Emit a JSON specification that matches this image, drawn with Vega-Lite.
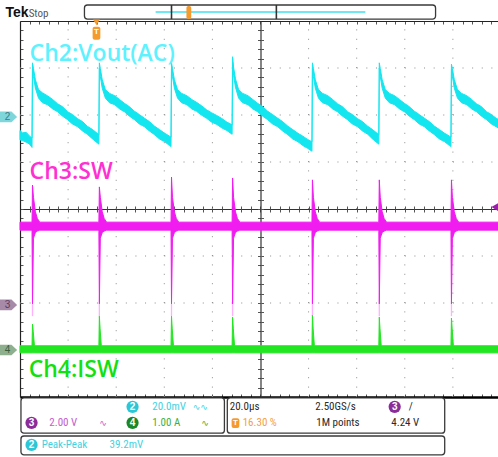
{
"$schema":"https://vega.github.io/schema/vega-lite/v6.json",
"width":478,"height":376,
"autosize":{"type":"none"},
"padding":{"left":20,"top":21,"right":0,"bottom":60},
"background":"#ffffff",
"config":{"view":{"stroke":null}},
"resolve":{"axis":{"x":"independent","y":"independent"}},
"datasets":{
"grid_v":[{"t":-4,"v":-4,"v2":4},{"t":-3,"v":-4,"v2":4},{"t":-2,"v":-4,"v2":4},{"t":-1,"v":-4,"v2":4},{"t":1,"v":-4,"v2":4},{"t":2,"v":-4,"v2":4},{"t":3,"v":-4,"v2":4},{"t":4,"v":-4,"v2":4}],
"grid_h":[{"t":-5,"t2":5,"v":-3},{"t":-5,"t2":5,"v":-2},{"t":-5,"t2":5,"v":-1},{"t":-5,"t2":5,"v":1},{"t":-5,"t2":5,"v":2},{"t":-5,"t2":5,"v":3}],
"ch2":[
{"t":-5.0,"v":1.67,"v2":1.47},{"t":-4.95,"v":1.62,"v2":1.46},{"t":-4.87,"v":1.63,"v2":1.42},{"t":-4.8,"v":1.55,"v2":1.38},{"t":-4.75,"v":1.51,"v2":1.31},
{"t":-4.74,"v":3.11,"v2":3.0},{"t":-4.72,"v":2.99,"v2":2.82},{"t":-4.68,"v":2.75,"v2":2.57},{"t":-4.615,"v":2.54,"v2":2.36},{"t":-4.53,"v":2.47,"v2":2.26},{"t":-4.43,"v":2.41,"v2":2.22},{"t":-4.32,"v":2.33,"v2":2.13},{"t":-4.22,"v":2.24,"v2":2.07},{"t":-4.12,"v":2.18,"v2":1.98},{"t":-4.01,"v":2.07,"v2":1.9},{"t":-3.91,"v":2.01,"v2":1.81},{"t":-3.8,"v":1.92,"v2":1.75},{"t":-3.7,"v":1.86,"v2":1.66},{"t":-3.6,"v":1.76,"v2":1.59},{"t":-3.49,"v":1.69,"v2":1.49},{"t":-3.36,"v":1.58,"v2":1.38},
{"t":-3.35,"v":3.11,"v2":3.0},{"t":-3.33,"v":2.99,"v2":2.82},{"t":-3.29,"v":2.75,"v2":2.57},{"t":-3.225,"v":2.54,"v2":2.36},{"t":-3.14,"v":2.46,"v2":2.26},{"t":-3.03,"v":2.41,"v2":2.22},{"t":-2.93,"v":2.33,"v2":2.13},{"t":-2.83,"v":2.25,"v2":2.07},{"t":-2.73,"v":2.18,"v2":1.98},{"t":-2.62,"v":2.08,"v2":1.9},{"t":-2.52,"v":2.01,"v2":1.81},{"t":-2.41,"v":1.93,"v2":1.75},{"t":-2.31,"v":1.86,"v2":1.66},{"t":-2.2,"v":1.76,"v2":1.58},{"t":-2.1,"v":1.69,"v2":1.49},{"t":-1.99,"v":1.61,"v2":1.43},{"t":-1.89,"v":1.55,"v2":1.35},{"t":-1.86,"v":1.53,"v2":1.33},
{"t":-1.85,"v":3.11,"v2":3.0},{"t":-1.83,"v":2.99,"v2":2.82},{"t":-1.79,"v":2.75,"v2":2.57},{"t":-1.725,"v":2.54,"v2":2.36},{"t":-1.64,"v":2.46,"v2":2.26},{"t":-1.53,"v":2.41,"v2":2.22},{"t":-1.43,"v":2.33,"v2":2.13},{"t":-1.33,"v":2.27,"v2":2.08},{"t":-1.23,"v":2.2,"v2":2.0},{"t":-1.12,"v":2.11,"v2":1.93},{"t":-1.02,"v":2.05,"v2":1.85},{"t":-0.91,"v":1.99,"v2":1.8},{"t":-0.81,"v":1.93,"v2":1.73},{"t":-0.7,"v":1.85,"v2":1.67},{"t":-0.59,"v":1.79,"v2":1.59},
{"t":-0.58,"v":3.24,"v2":3.12},{"t":-0.56,"v":3.02,"v2":2.84},{"t":-0.52,"v":2.77,"v2":2.59},{"t":-0.455,"v":2.54,"v2":2.36},{"t":-0.37,"v":2.46,"v2":2.26},{"t":-0.26,"v":2.41,"v2":2.22},{"t":-0.16,"v":2.33,"v2":2.13},{"t":-0.06,"v":2.25,"v2":2.07},{"t":0.04,"v":2.18,"v2":1.98},{"t":0.15,"v":2.08,"v2":1.9},{"t":0.25,"v":2.01,"v2":1.81},{"t":0.36,"v":1.93,"v2":1.75},{"t":0.46,"v":1.86,"v2":1.66},{"t":0.57,"v":1.76,"v2":1.58},{"t":0.67,"v":1.69,"v2":1.49},{"t":0.78,"v":1.61,"v2":1.43},{"t":0.88,"v":1.55,"v2":1.35},{"t":0.98,"v":1.48,"v2":1.29},{"t":1.07,"v":1.43,"v2":1.23},
{"t":1.08,"v":3.11,"v2":3.0},{"t":1.1,"v":2.99,"v2":2.82},{"t":1.14,"v":2.75,"v2":2.57},{"t":1.205,"v":2.54,"v2":2.36},{"t":1.29,"v":2.46,"v2":2.26},{"t":1.4,"v":2.41,"v2":2.22},{"t":1.5,"v":2.33,"v2":2.13},{"t":1.6,"v":2.24,"v2":2.07},{"t":1.7,"v":2.18,"v2":1.98},{"t":1.81,"v":2.07,"v2":1.9},{"t":1.91,"v":2.01,"v2":1.81},{"t":2.02,"v":1.92,"v2":1.75},{"t":2.12,"v":1.86,"v2":1.66},{"t":2.23,"v":1.76,"v2":1.59},{"t":2.33,"v":1.69,"v2":1.49},{"t":2.46,"v":1.58,"v2":1.38},
{"t":2.47,"v":3.11,"v2":3.0},{"t":2.49,"v":2.99,"v2":2.82},{"t":2.53,"v":2.75,"v2":2.57},{"t":2.595,"v":2.54,"v2":2.36},{"t":2.68,"v":2.46,"v2":2.26},{"t":2.79,"v":2.41,"v2":2.22},{"t":2.89,"v":2.33,"v2":2.13},{"t":2.99,"v":2.25,"v2":2.07},{"t":3.09,"v":2.18,"v2":1.98},{"t":3.2,"v":2.08,"v2":1.9},{"t":3.3,"v":2.01,"v2":1.81},{"t":3.41,"v":1.93,"v2":1.75},{"t":3.51,"v":1.86,"v2":1.66},{"t":3.62,"v":1.76,"v2":1.58},{"t":3.72,"v":1.69,"v2":1.49},{"t":3.83,"v":1.61,"v2":1.43},{"t":3.93,"v":1.55,"v2":1.35},{"t":3.96,"v":1.53,"v2":1.33},
{"t":3.97,"v":3.08,"v2":2.97},{"t":3.99,"v":2.99,"v2":2.82},{"t":4.03,"v":2.75,"v2":2.57},{"t":4.095,"v":2.54,"v2":2.36},{"t":4.18,"v":2.46,"v2":2.26},{"t":4.29,"v":2.41,"v2":2.22},{"t":4.39,"v":2.33,"v2":2.13},{"t":4.49,"v":2.24,"v2":2.07},{"t":4.59,"v":2.18,"v2":1.98},{"t":4.7,"v":2.07,"v2":1.9},{"t":4.8,"v":2.01,"v2":1.81},{"t":4.9,"v":1.93,"v2":1.75},{"t":5.0,"v":1.88,"v2":1.69}
],
"ch3":[
{"t":-5.0,"v":-0.28,"v2":-0.45},
{"t":-4.75,"v":-0.28,"v2":-0.45},{"t":-4.74,"v":0.51,"v2":-2.02},{"t":-4.72,"v":0.25,"v2":-0.62},{"t":-4.68,"v":-0.06,"v2":-0.5},{"t":-4.64,"v":-0.2,"v2":-0.47},{"t":-4.59,"v":-0.28,"v2":-0.45},
{"t":-3.36,"v":-0.28,"v2":-0.45},{"t":-3.35,"v":0.47,"v2":-2.02},{"t":-3.33,"v":0.25,"v2":-0.62},{"t":-3.29,"v":-0.06,"v2":-0.5},{"t":-3.25,"v":-0.2,"v2":-0.47},{"t":-3.2,"v":-0.28,"v2":-0.45},
{"t":-1.86,"v":-0.28,"v2":-0.45},{"t":-1.85,"v":0.68,"v2":-2.02},{"t":-1.83,"v":0.25,"v2":-0.62},{"t":-1.79,"v":-0.06,"v2":-0.5},{"t":-1.75,"v":-0.2,"v2":-0.47},{"t":-1.7,"v":-0.28,"v2":-0.45},
{"t":-0.59,"v":-0.28,"v2":-0.45},{"t":-0.58,"v":0.66,"v2":-2.02},{"t":-0.56,"v":0.25,"v2":-0.62},{"t":-0.52,"v":-0.06,"v2":-0.5},{"t":-0.48,"v":-0.2,"v2":-0.47},{"t":-0.43,"v":-0.28,"v2":-0.45},
{"t":1.07,"v":-0.28,"v2":-0.45},{"t":1.08,"v":0.62,"v2":-2.02},{"t":1.1,"v":0.25,"v2":-0.62},{"t":1.14,"v":-0.06,"v2":-0.5},{"t":1.18,"v":-0.2,"v2":-0.47},{"t":1.23,"v":-0.28,"v2":-0.45},
{"t":2.46,"v":-0.28,"v2":-0.45},{"t":2.47,"v":0.62,"v2":-2.02},{"t":2.49,"v":0.25,"v2":-0.62},{"t":2.53,"v":-0.06,"v2":-0.5},{"t":2.57,"v":-0.2,"v2":-0.47},{"t":2.62,"v":-0.28,"v2":-0.45},
{"t":3.96,"v":-0.28,"v2":-0.45},{"t":3.97,"v":0.62,"v2":-2.02},{"t":3.99,"v":0.25,"v2":-0.62},{"t":4.03,"v":-0.06,"v2":-0.5},{"t":4.07,"v":-0.2,"v2":-0.47},{"t":4.12,"v":-0.28,"v2":-0.45},
{"t":5.0,"v":-0.28,"v2":-0.45}
],
"ch3f":[{"t":-4.74,"v":-2.02,"v2":-2.28},{"t":-3.35,"v":-2.02,"v2":-2.28},{"t":-1.85,"v":-2.02,"v2":-2.28},{"t":-0.58,"v":-2.02,"v2":-2.28},{"t":1.08,"v":-2.02,"v2":-2.28},{"t":2.47,"v":-2.02,"v2":-2.28},{"t":3.97,"v":-2.02,"v2":-2.28}],
"ch4":[
{"t":-5.0,"v":-2.91,"v2":-3.06},
{"t":-4.75,"v":-2.91,"v2":-3.06},{"t":-4.74,"v":-2.45,"v2":-3.06},{"t":-4.725,"v":-2.6,"v2":-3.06},{"t":-4.7,"v":-2.91,"v2":-3.06},
{"t":-3.36,"v":-2.91,"v2":-3.06},{"t":-3.35,"v":-2.28,"v2":-3.06},{"t":-3.335,"v":-2.55,"v2":-3.06},{"t":-3.31,"v":-2.91,"v2":-3.06},
{"t":-1.86,"v":-2.91,"v2":-3.06},{"t":-1.85,"v":-2.28,"v2":-3.06},{"t":-1.835,"v":-2.55,"v2":-3.06},{"t":-1.81,"v":-2.91,"v2":-3.06},
{"t":-0.59,"v":-2.91,"v2":-3.06},{"t":-0.58,"v":-2.3,"v2":-3.06},{"t":-0.565,"v":-2.55,"v2":-3.06},{"t":-0.54,"v":-2.91,"v2":-3.06},
{"t":1.07,"v":-2.91,"v2":-3.06},{"t":1.08,"v":-2.26,"v2":-3.06},{"t":1.095,"v":-2.55,"v2":-3.06},{"t":1.12,"v":-2.91,"v2":-3.06},
{"t":2.46,"v":-2.91,"v2":-3.06},{"t":2.47,"v":-2.3,"v2":-3.06},{"t":2.485,"v":-2.55,"v2":-3.06},{"t":2.51,"v":-2.91,"v2":-3.06},
{"t":3.96,"v":-2.91,"v2":-3.06},{"t":3.97,"v":-2.32,"v2":-3.06},{"t":3.985,"v":-2.55,"v2":-3.06},{"t":4.01,"v":-2.91,"v2":-3.06},
{"t":5.0,"v":-2.91,"v2":-3.06}
],
"labels":[{"t":-4.8,"v":3.3,"s":"Ch2:Vout(AC)","k":"ch2lab"},{"t":-4.8,"v":0.79,"s":"Ch3:SW","k":"ch3lab"},{"t":-4.82,"v":-3.43,"s":"Ch4:ISW","k":"ch4lab"}],
"boxes":[{"t":-4.98,"t2":-0.75,"v":-4.02,"v2":-4.77},{"t":-0.69,"t2":3.83,"v":-4.02,"v2":-4.77},{"t":-4.98,"t2":3.83,"v":-4.83,"v2":-5.23},{"t":-3.66,"t2":3.64,"v":4.34,"v2":4.04}],
"hl":[{"t":-2.18,"t2":2.18,"v":4.19,"v2":4.19,"k":"hcyan"},{"t":-1.85,"t2":-1.85,"v":4.34,"v2":4.04,"k":"hdiv"},{"t":0.33,"t2":0.33,"v":4.34,"v2":4.04,"k":"hdiv"}],
"orect":[{"t":-3.49,"t2":-3.33,"v":3.88,"v2":3.6},{"t":-0.6,"t2":-0.44,"v":-4.45,"v2":-4.66},{"t":-1.54,"t2":-1.44,"v":4.32,"v2":4.04}],
"otri":[{"t":-3.41,"v":3.97}],
"ttext":[{"t":-3.41,"v":3.76,"s":"T"},{"t":-0.52,"v":-4.555,"s":"T"}],
"trig":[{"t":4.87,"v":0.04}],
"tags":[{"t":-5.24,"v":1.96,"s":"2","k":"tag2","k2":"tag2t"},{"t":-5.24,"v":-2.04,"s":"3","k":"tag3","k2":"tag3t"},{"t":-5.24,"v":-3.0,"s":"4","k":"tag4","k2":"tag4t"}],
"badges":[{"t":-2.66,"v":-4.21,"s":"2","k":"b2"},{"t":-4.76,"v":-4.55,"s":"3","k":"b3"},{"t":-2.66,"v":-4.55,"s":"4","k":"b4"},{"t":2.79,"v":-4.21,"s":"3","k":"b3"},{"t":-4.76,"v":-5.02,"s":"2","k":"b2"}],
"foot":[
{"t":-2.25,"v":-4.21,"s":"20.0mV","k":"c2"},{"t":-4.39,"v":-4.55,"s":"2.00 V","k":"c3"},{"t":-2.25,"v":-4.55,"s":"1.00 A","k":"c4"},
{"t":-0.64,"v":-4.21,"s":"20.0µs","k":"sys"},{"t":1.14,"v":-4.21,"s":"2.50GS/s","k":"sys"},{"t":-0.37,"v":-4.55,"s":"16.30 %","k":"orange"},
{"t":1.16,"v":-4.55,"s":"1M points","k":"sys"},{"t":2.72,"v":-4.55,"s":"4.24 V","k":"sys"},{"t":3.08,"v":-4.21,"s":"/","k":"sys"},
{"t":-4.55,"v":-5.02,"s":"Peak-Peak","k":"c2"},{"t":-3.14,"v":-5.02,"s":"39.2mV","k":"c2"},{"t":-4.82,"v":4.15,"s":"Stop","k":"gray"}
],
"icons":[{"t":-1.41,"v":-4.21,"s":"∿∿","k":"c2"},{"t":-3.35,"v":-4.55,"s":"∿","k":"c3"},{"t":-1.23,"v":-4.55,"s":"∿","k":"c4"}],
"tek":[{"t":-5.3,"v":4.16,"s":"Tek"}]
},
"layer":[
{"data":{"name":"grid_v"},"mark":{"type":"rule","stroke":"#8c8c8c","strokeWidth":1,"strokeDash":[1,8.4]},
 "encoding":{
  "x":{"field":"t","type":"quantitative","scale":{"domain":[-5,4.938],"nice":false,"zero":false},"axis":{"orient":"bottom","offset":-376,"values":[-5,-4.8,-4.6,-4.4,-4.2,-4,-3.8,-3.6,-3.4,-3.2,-3,-2.8,-2.6,-2.4,-2.2,-2,-1.8,-1.6,-1.4,-1.2,-1,-0.8,-0.6,-0.4,-0.2,0,0.2,0.4,0.6,0.8,1,1.2,1.4,1.6,1.8,2,2.2,2.4,2.6,2.8,3,3.2,3.4,3.6,3.8,4,4.2,4.4,4.6,4.8],"labels":false,"title":null,"grid":false,"tickSize":3,"tickColor":"#555555","domainColor":"#222222","domainWidth":1.2}},
  "y":{"field":"v","type":"quantitative","scale":{"domain":[-4,4],"nice":false,"zero":false},"axis":{"orient":"right","offset":-478,"values":[-3.8,-3.6,-3.4,-3.2,-3,-2.8,-2.6,-2.4,-2.2,-2,-1.8,-1.6,-1.4,-1.2,-1,-0.8,-0.6,-0.4,-0.2,0,0.2,0.4,0.6,0.8,1,1.2,1.4,1.6,1.8,2,2.2,2.4,2.6,2.8,3,3.2,3.4,3.6,3.8],"labels":false,"title":null,"grid":false,"tickSize":3,"tickColor":"#555555","domainColor":"#222222","domainWidth":1.2}},
  "y2":{"field":"v2"}}},
{"data":{"name":"grid_h"},"mark":{"type":"rule","stroke":"#8c8c8c","strokeWidth":1,"strokeDash":[1,8.62]},
 "encoding":{
  "x":{"field":"t","type":"quantitative","scale":{"domain":[-5,4.938],"nice":false,"zero":false},"axis":{"orient":"top","offset":-376,"values":[-5,-4.8,-4.6,-4.4,-4.2,-4,-3.8,-3.6,-3.4,-3.2,-3,-2.8,-2.6,-2.4,-2.2,-2,-1.8,-1.6,-1.4,-1.2,-1,-0.8,-0.6,-0.4,-0.2,0,0.2,0.4,0.6,0.8,1,1.2,1.4,1.6,1.8,2,2.2,2.4,2.6,2.8,3,3.2,3.4,3.6,3.8,4,4.2,4.4,4.6,4.8],"labels":false,"title":null,"grid":false,"tickSize":3,"tickColor":"#555555","domainColor":"#000000","domainWidth":2.4}},
  "x2":{"field":"t2"},
  "y":{"field":"v","type":"quantitative","scale":{"domain":[-4,4],"nice":false,"zero":false},"axis":{"orient":"left","offset":-240.5,"values":[-3.8,-3.6,-3.4,-3.2,-3,-2.8,-2.6,-2.4,-2.2,-2,-1.8,-1.6,-1.4,-1.2,-1,-0.8,-0.6,-0.4,-0.2,0,0.2,0.4,0.6,0.8,1,1.2,1.4,1.6,1.8,2,2.2,2.4,2.6,2.8,3,3.2,3.4,3.6,3.8],"labels":false,"title":null,"grid":false,"tickSize":3,"tickColor":"#555555","domainColor":"#333333","domainWidth":1.2}}}},
{"data":{"name":"ch2"},"mark":{"type":"area","fill":"#14e6f0","stroke":"#14e6f0","strokeWidth":1},
 "encoding":{
  "x":{"field":"t","type":"quantitative","scale":{"domain":[-5,4.938],"nice":false,"zero":false},"axis":{"orient":"bottom","offset":-188,"values":[-5,-4.8,-4.6,-4.4,-4.2,-4,-3.8,-3.6,-3.4,-3.2,-3,-2.8,-2.6,-2.4,-2.2,-2,-1.8,-1.6,-1.4,-1.2,-1,-0.8,-0.6,-0.4,-0.2,0,0.2,0.4,0.6,0.8,1,1.2,1.4,1.6,1.8,2,2.2,2.4,2.6,2.8,3,3.2,3.4,3.6,3.8,4,4.2,4.4,4.6,4.8],"labels":false,"title":null,"grid":false,"tickSize":3,"tickColor":"#555555","domainColor":"#333333","domainWidth":1.2}},
  "y":{"field":"v","type":"quantitative","scale":{"domain":[-4,4],"nice":false,"zero":false},"axis":{"orient":"right","offset":-237.5,"values":[-3.8,-3.6,-3.4,-3.2,-3,-2.8,-2.6,-2.4,-2.2,-2,-1.8,-1.6,-1.4,-1.2,-1,-0.8,-0.6,-0.4,-0.2,0,0.2,0.4,0.6,0.8,1,1.2,1.4,1.6,1.8,2,2.2,2.4,2.6,2.8,3,3.2,3.4,3.6,3.8],"labels":false,"title":null,"grid":false,"tickSize":3,"tickColor":"#555555","domain":false}},
  "y2":{"field":"v2"}}},
{"data":{"name":"ch3"},"mark":{"type":"area","fill":"#f01cf0","stroke":"#f01cf0","strokeWidth":1},
 "encoding":{
  "x":{"field":"t","type":"quantitative","scale":{"domain":[-5,4.938],"nice":false,"zero":false},"axis":{"orient":"top","offset":-188,"values":[-5,-4.8,-4.6,-4.4,-4.2,-4,-3.8,-3.6,-3.4,-3.2,-3,-2.8,-2.6,-2.4,-2.2,-2,-1.8,-1.6,-1.4,-1.2,-1,-0.8,-0.6,-0.4,-0.2,0,0.2,0.4,0.6,0.8,1,1.2,1.4,1.6,1.8,2,2.2,2.4,2.6,2.8,3,3.2,3.4,3.6,3.8,4,4.2,4.4,4.6,4.8],"labels":false,"title":null,"grid":false,"tickSize":3,"tickColor":"#555555","domain":false}},
  "y":{"field":"v","type":"quantitative","scale":{"domain":[-4,4],"nice":false,"zero":false},"axis":null},
  "y2":{"field":"v2"}}},
{"data":{"name":"ch3f"},"mark":{"type":"rule","stroke":"#ffb0ff","strokeWidth":1.3},
 "encoding":{
  "x":{"field":"t","type":"quantitative","scale":{"domain":[-5,4.938],"nice":false,"zero":false},"axis":null},
  "y":{"field":"v","type":"quantitative","scale":{"domain":[-4,4],"nice":false,"zero":false},"axis":null},
  "y2":{"field":"v2"}}},
{"data":{"name":"ch4"},"mark":{"type":"area","fill":"#22e622","stroke":"#22e622","strokeWidth":1},
 "encoding":{
  "x":{"field":"t","type":"quantitative","scale":{"domain":[-5,4.938],"nice":false,"zero":false},"axis":null},
  "y":{"field":"v","type":"quantitative","scale":{"domain":[-4,4],"nice":false,"zero":false},"axis":null},
  "y2":{"field":"v2"}}},
{"data":{"name":"labels"},"mark":{"type":"text","align":"left","baseline":"middle","font":"Open Sans","fontWeight":600,"fontSize":23},
 "encoding":{
  "x":{"field":"t","type":"quantitative","scale":{"domain":[-5,4.938],"nice":false,"zero":false},"axis":null},
  "y":{"field":"v","type":"quantitative","scale":{"domain":[-4,4],"nice":false,"zero":false},"axis":null},
  "text":{"field":"s"},
  "color":{"field":"k","type":"nominal","legend":null,"scale":{"domain":["ch2lab","ch3lab","ch4lab","c2","c3","c4","orange","sys","gray","b2","b3","b4","tag2","tag3","tag4","tag2t","tag3t","tag4t","hdiv","hcyan"],"range":["#5ef2ff","#ff30d2","#12e012","#3fd2e2","#c25cce","#3cb03c","#f5a03c","#2a2a2a","#555555","#2cc7d6","#8c2c99","#18882a","#7fd6da","#a68aa8","#8fb08f","#3c7c84","#5e3d62","#3d5e3d","#333333","#3ee0ee"]}}}},
{"data":{"name":"boxes"},"mark":{"type":"rect","fill":"#ffffff","stroke":"#3a3a3a","strokeWidth":1.3,"cornerRadius":3},
 "encoding":{
  "x":{"field":"t","type":"quantitative","scale":{"domain":[-5,4.938],"nice":false,"zero":false},"axis":null},
  "x2":{"field":"t2"},
  "y":{"field":"v","type":"quantitative","scale":{"domain":[-4,4],"nice":false,"zero":false},"axis":null},
  "y2":{"field":"v2"}}},
{"data":{"name":"hl"},"mark":{"type":"rule","strokeWidth":1.6},
 "encoding":{
  "x":{"field":"t","type":"quantitative","scale":{"domain":[-5,4.938],"nice":false,"zero":false},"axis":null},
  "x2":{"field":"t2"},
  "y":{"field":"v","type":"quantitative","scale":{"domain":[-4,4],"nice":false,"zero":false},"axis":null},
  "y2":{"field":"v2"},
  "color":{"field":"k","type":"nominal","legend":null,"scale":{"domain":["ch2lab","ch3lab","ch4lab","c2","c3","c4","orange","sys","gray","b2","b3","b4","tag2","tag3","tag4","tag2t","tag3t","tag4t","hdiv","hcyan"],"range":["#5ef2ff","#ff30d2","#12e012","#3fd2e2","#c25cce","#3cb03c","#f5a03c","#2a2a2a","#555555","#2cc7d6","#8c2c99","#18882a","#7fd6da","#a68aa8","#8fb08f","#3c7c84","#5e3d62","#3d5e3d","#333333","#3ee0ee"]}}}},
{"data":{"name":"orect"},"mark":{"type":"rect","fill":"#f59a2c","cornerRadius":2},
 "encoding":{
  "x":{"field":"t","type":"quantitative","scale":{"domain":[-5,4.938],"nice":false,"zero":false},"axis":null},
  "x2":{"field":"t2"},
  "y":{"field":"v","type":"quantitative","scale":{"domain":[-4,4],"nice":false,"zero":false},"axis":null},
  "y2":{"field":"v2"}}},
{"data":{"name":"otri"},"mark":{"type":"point","shape":"triangle-down","filled":true,"fill":"#f59a2c","opacity":1,"size":45},
 "encoding":{
  "x":{"field":"t","type":"quantitative","scale":{"domain":[-5,4.938],"nice":false,"zero":false},"axis":null},
  "y":{"field":"v","type":"quantitative","scale":{"domain":[-4,4],"nice":false,"zero":false},"axis":null}}},
{"data":{"name":"ttext"},"mark":{"type":"text","align":"center","baseline":"middle","font":"Liberation Sans","fontWeight":"bold","fontSize":8,"fill":"#ffffff"},
 "encoding":{
  "x":{"field":"t","type":"quantitative","scale":{"domain":[-5,4.938],"nice":false,"zero":false},"axis":null},
  "y":{"field":"v","type":"quantitative","scale":{"domain":[-4,4],"nice":false,"zero":false},"axis":null},
  "text":{"field":"s"}}},
{"data":{"name":"trig"},"mark":{"type":"point","shape":"triangle-left","filled":true,"fill":"#9b1fa8","opacity":1,"size":60},
 "encoding":{
  "x":{"field":"t","type":"quantitative","scale":{"domain":[-5,4.938],"nice":false,"zero":false},"axis":null},
  "y":{"field":"v","type":"quantitative","scale":{"domain":[-4,4],"nice":false,"zero":false},"axis":null}}},
{"data":{"name":"tags"},"mark":{"type":"point","shape":"M -1 -0.62 L 0.35 -0.62 L 1 0 L 0.35 0.62 L -1 0.62 Z","filled":true,"opacity":1,"size":300},
 "encoding":{
  "x":{"field":"t","type":"quantitative","scale":{"domain":[-5,4.938],"nice":false,"zero":false},"axis":null},
  "y":{"field":"v","type":"quantitative","scale":{"domain":[-4,4],"nice":false,"zero":false},"axis":null},
  "color":{"field":"k","type":"nominal","legend":null,"scale":{"domain":["ch2lab","ch3lab","ch4lab","c2","c3","c4","orange","sys","gray","b2","b3","b4","tag2","tag3","tag4","tag2t","tag3t","tag4t","hdiv","hcyan"],"range":["#5ef2ff","#ff30d2","#12e012","#3fd2e2","#c25cce","#3cb03c","#f5a03c","#2a2a2a","#555555","#2cc7d6","#8c2c99","#18882a","#7fd6da","#a68aa8","#8fb08f","#3c7c84","#5e3d62","#3d5e3d","#333333","#3ee0ee"]}}}},
{"data":{"name":"tags"},"mark":{"type":"text","align":"center","baseline":"middle","font":"Liberation Sans","fontSize":10,"dx":-1},
 "encoding":{
  "x":{"field":"t","type":"quantitative","scale":{"domain":[-5,4.938],"nice":false,"zero":false},"axis":null},
  "y":{"field":"v","type":"quantitative","scale":{"domain":[-4,4],"nice":false,"zero":false},"axis":null},
  "text":{"field":"s"},
  "color":{"field":"k2","type":"nominal","legend":null,"scale":{"domain":["ch2lab","ch3lab","ch4lab","c2","c3","c4","orange","sys","gray","b2","b3","b4","tag2","tag3","tag4","tag2t","tag3t","tag4t","hdiv","hcyan"],"range":["#5ef2ff","#ff30d2","#12e012","#3fd2e2","#c25cce","#3cb03c","#f5a03c","#2a2a2a","#555555","#2cc7d6","#8c2c99","#18882a","#7fd6da","#a68aa8","#8fb08f","#3c7c84","#5e3d62","#3d5e3d","#333333","#3ee0ee"]}}}},
{"data":{"name":"badges"},"mark":{"type":"point","shape":"circle","filled":true,"opacity":1,"size":150},
 "encoding":{
  "x":{"field":"t","type":"quantitative","scale":{"domain":[-5,4.938],"nice":false,"zero":false},"axis":null},
  "y":{"field":"v","type":"quantitative","scale":{"domain":[-4,4],"nice":false,"zero":false},"axis":null},
  "color":{"field":"k","type":"nominal","legend":null,"scale":{"domain":["ch2lab","ch3lab","ch4lab","c2","c3","c4","orange","sys","gray","b2","b3","b4","tag2","tag3","tag4","tag2t","tag3t","tag4t","hdiv","hcyan"],"range":["#5ef2ff","#ff30d2","#12e012","#3fd2e2","#c25cce","#3cb03c","#f5a03c","#2a2a2a","#555555","#2cc7d6","#8c2c99","#18882a","#7fd6da","#a68aa8","#8fb08f","#3c7c84","#5e3d62","#3d5e3d","#333333","#3ee0ee"]}}}},
{"data":{"name":"badges"},"mark":{"type":"text","align":"center","baseline":"middle","font":"Liberation Sans","fontWeight":"bold","fontSize":10,"fill":"#ffffff"},
 "encoding":{
  "x":{"field":"t","type":"quantitative","scale":{"domain":[-5,4.938],"nice":false,"zero":false},"axis":null},
  "y":{"field":"v","type":"quantitative","scale":{"domain":[-4,4],"nice":false,"zero":false},"axis":null},
  "text":{"field":"s"}}},
{"data":{"name":"foot"},"mark":{"type":"text","align":"left","baseline":"middle","font":"Liberation Sans Narrow, Roboto Condensed, Liberation Sans","fontSize":11},
 "encoding":{
  "x":{"field":"t","type":"quantitative","scale":{"domain":[-5,4.938],"nice":false,"zero":false},"axis":null},
  "y":{"field":"v","type":"quantitative","scale":{"domain":[-4,4],"nice":false,"zero":false},"axis":null},
  "text":{"field":"s"},
  "color":{"field":"k","type":"nominal","legend":null,"scale":{"domain":["ch2lab","ch3lab","ch4lab","c2","c3","c4","orange","sys","gray","b2","b3","b4","tag2","tag3","tag4","tag2t","tag3t","tag4t","hdiv","hcyan"],"range":["#5ef2ff","#ff30d2","#12e012","#3fd2e2","#c25cce","#3cb03c","#f5a03c","#2a2a2a","#555555","#2cc7d6","#8c2c99","#18882a","#7fd6da","#a68aa8","#8fb08f","#3c7c84","#5e3d62","#3d5e3d","#333333","#3ee0ee"]}}}},
{"data":{"name":"icons"},"mark":{"type":"text","align":"left","baseline":"middle","font":"DejaVu Sans","fontSize":9},
 "encoding":{
  "x":{"field":"t","type":"quantitative","scale":{"domain":[-5,4.938],"nice":false,"zero":false},"axis":null},
  "y":{"field":"v","type":"quantitative","scale":{"domain":[-4,4],"nice":false,"zero":false},"axis":null},
  "text":{"field":"s"},
  "color":{"field":"k","type":"nominal","legend":null,"scale":{"domain":["ch2lab","ch3lab","ch4lab","c2","c3","c4","orange","sys","gray","b2","b3","b4","tag2","tag3","tag4","tag2t","tag3t","tag4t","hdiv","hcyan"],"range":["#5ef2ff","#ff30d2","#12e012","#3fd2e2","#c25cce","#3cb03c","#f5a03c","#2a2a2a","#555555","#2cc7d6","#8c2c99","#18882a","#7fd6da","#a68aa8","#8fb08f","#3c7c84","#5e3d62","#3d5e3d","#333333","#3ee0ee"]}}}},
{"data":{"name":"tek"},"mark":{"type":"text","align":"left","baseline":"middle","font":"Liberation Sans Narrow, Liberation Sans","fontWeight":"bold","fontSize":14,"fill":"#111111"},
 "encoding":{
  "x":{"field":"t","type":"quantitative","scale":{"domain":[-5,4.938],"nice":false,"zero":false},"axis":null},
  "y":{"field":"v","type":"quantitative","scale":{"domain":[-4,4],"nice":false,"zero":false},"axis":null},
  "text":{"field":"s"}}}
]
}
